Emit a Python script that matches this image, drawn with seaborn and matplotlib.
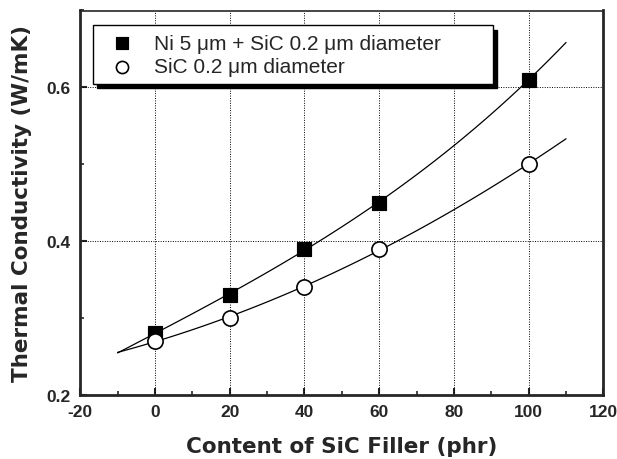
import numpy as np
import pandas as pd
import matplotlib
matplotlib.use("Agg")
import matplotlib.pyplot as plt
import seaborn as sns
from matplotlib.ticker import MultipleLocator

# data
filler = [0, 20, 40, 60, 100]
ni_sic = [0.28, 0.33, 0.39, 0.45, 0.61]
sic_only = [0.27, 0.30, 0.34, 0.39, 0.50]
x_ticks = [-20, 0, 20, 40, 60, 80, 100, 120]
y_ticks = [0.2, 0.4, 0.6]
label_ni = "Ni 5 \u03bcm + SiC 0.2 \u03bcm diameter"
label_sic = "SiC 0.2 \u03bcm diameter"

sns.set_style("ticks")
plt.rcParams["font.family"] = ["Liberation Sans", "DejaVu Sans"]
plt.rcParams["axes.unicode_minus"] = False

fig, ax = plt.subplots(figsize=(6.17, 4.60), dpi=100)

# polynomial fit curves through each series
xfit = np.linspace(-10, 110, 100)
for ys, deg in ((ni_sic, 3), (sic_only, 2)):
    coef = np.polyfit(filler, ys, deg)
    fit_df = pd.DataFrame({"x": xfit, "y": np.polyval(coef, xfit)})
    sns.lineplot(data=fit_df, x="x", y="y", ax=ax, color="black", lw=0.9, zorder=2)

df_ni = pd.DataFrame({"x": filler, "y": ni_sic})
df_sic = pd.DataFrame({"x": filler, "y": sic_only})
sns.scatterplot(data=df_ni, x="x", y="y", ax=ax, marker="s", s=110, color="black",
                edgecolor="black", label=label_ni, zorder=3)
sns.scatterplot(data=df_sic, x="x", y="y", ax=ax, marker="o", s=120, facecolor="white",
                edgecolor="black", linewidth=1.2, label=label_sic, zorder=3)

ax.set_xlim(-20, 120)
ax.set_ylim(0.2, 0.7)
ax.set_xticks(x_ticks)
ax.set_yticks(y_ticks)
ax.set_yticklabels([f"{v:.1f}" for v in y_ticks])
ax.xaxis.set_minor_locator(MultipleLocator(10))
ax.yaxis.set_minor_locator(MultipleLocator(0.1))
ax.tick_params(which="major", direction="in", length=5, width=1.5, labelsize=12.5, pad=7)
ax.tick_params(which="minor", direction="in", length=3, width=1.2)
for lab in ax.get_xticklabels() + ax.get_yticklabels():
    lab.set_fontweight("bold")

# dotted grid at the data columns and y ticks
for xv in filler + [80]:
    ax.axvline(xv, color="black", ls=(0, (1, 1.5)), lw=0.7, zorder=1)
for yv in [0.4, 0.6]:
    ax.axhline(yv, color="black", ls=(0, (1, 1.5)), lw=0.7, zorder=1)

for side in ["left", "bottom", "right"]:
    ax.spines[side].set_linewidth(2)
ax.spines["top"].set_linewidth(1.2)

ax.set_xlabel("Content of SiC Filler (phr)", fontsize=15.5, fontweight="bold",
              family="DejaVu Sans", labelpad=12)
ax.set_ylabel("Thermal Conductivity (W/mK)", fontsize=15.5, fontweight="bold",
              family="DejaVu Sans", labelpad=10)

leg = ax.legend(loc="upper left", bbox_to_anchor=(0.025, 0.80, 0.764, 0.161), mode="expand",
                borderaxespad=0, fontsize=15, frameon=True, fancybox=False,
                shadow={"color": "black", "alpha": 1, "ox": 3, "oy": -3},
                borderpad=0.4, handletextpad=0.5, labelspacing=0.2, markerscale=0.8)
leg.get_frame().set_edgecolor("black")
leg.get_frame().set_linewidth(1.0)
leg.get_frame().set_alpha(1)

fig.subplots_adjust(left=0.13, right=0.978, top=0.975, bottom=0.14)
fig.savefig("out.png", dpi=100)
